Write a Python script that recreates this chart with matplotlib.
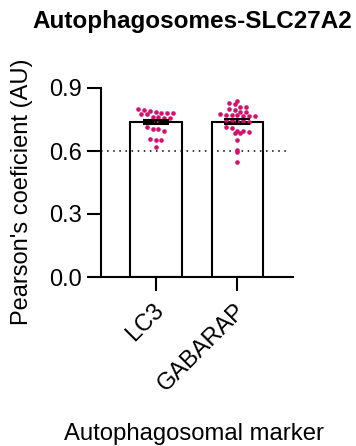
import numpy as np
import matplotlib
matplotlib.use("Agg")
import matplotlib.pyplot as plt

plt.rcParams['font.family'] = ['Liberation Sans', 'DejaVu Sans']

# Pearson's coefficient per cell for each autophagosomal marker
categories = ["LC3", "GABARAP"]
lc3 = [0.780, 0.780, 0.776, 0.784, 0.789, 0.799, 0.794, 0.782, 0.775, 0.763,
       0.759, 0.757, 0.763, 0.737, 0.697, 0.703, 0.714, 0.706, 0.659, 0.654,
       0.654, 0.619]
gabarap = [0.840, 0.825, 0.830, 0.811, 0.811, 0.795, 0.800, 0.784, 0.787, 0.776,
           0.771, 0.765, 0.768, 0.771, 0.771, 0.768, 0.748, 0.748, 0.743, 0.740,
           0.744, 0.716, 0.708, 0.697, 0.695, 0.692, 0.687, 0.687, 0.652, 0.605,
           0.594, 0.549]
series = [lc3, gabarap]
threshold = 0.6
yticks = [0.0, 0.3, 0.6, 0.9]

DOT = '#D40F6E'
LW = 1.5


def row_swarm(values, row_h=0.03, step=0.072):
    """Prism-like scatter: group values into horizontal rows, centre each row."""
    v = np.sort(np.asarray(values))[::-1]
    rows = np.floor(v / row_h).astype(int)
    offs = np.zeros_like(v)
    for r in np.unique(rows):
        idx = np.where(rows == r)[0]
        n = len(idx)
        offs[idx] = (np.arange(n) - (n - 1) / 2) * step
    return offs, v


fig = plt.figure(figsize=(3.56, 4.46), dpi=100)
ax = fig.add_axes([101 / 356, 1 - 277 / 446, 192 / 356, 189 / 446])

x = np.arange(len(categories))
means = [np.mean(s) for s in series]
sems = [np.std(s, ddof=1) / np.sqrt(len(s)) for s in series]

ax.bar(x, means, width=0.634, color='white', edgecolor='black', linewidth=LW, zorder=2)
ax.axhline(threshold, xmin=0.0, xmax=0.974, color='black', lw=1.1,
           linestyle=(0, (1, 3)), zorder=2.5)
for xi, s in zip(x, series):
    offs, v = row_swarm(s)
    ax.plot(xi + offs, v, 'o', ms=3.3, color=DOT, mec='none', zorder=3)
ax.errorbar(x, means, yerr=sems, fmt='none', ecolor='black', elinewidth=LW,
            capsize=9.7, capthick=LW, zorder=4)

ax.set_xlim(-0.665, 1.677)
ax.set_ylim(0, 0.9)
ax.set_yticks(yticks)
ax.set_yticklabels([f"{t:.1f}" for t in yticks])
ax.set_xticks(x)
ax.set_xticklabels([])

# Rotated category labels, anchored at their right end below each tick
for xi, cat in zip(x, categories):
    ax.annotate(cat, xy=(xi, 0), xycoords=('data', 'axes fraction'),
                xytext=(3.6, -22), textcoords='offset points', rotation=45,
                ha='right', va='center', rotation_mode='anchor', fontsize=17,
                annotation_clip=False)

for side in ['top', 'right']:
    ax.spines[side].set_visible(False)
for side in ['left', 'bottom']:
    ax.spines[side].set_linewidth(LW)
ax.tick_params(axis='both', length=10, width=LW, labelsize=17, pad=3.5)

fig.text(192.5 / 356, 1 - 28.3 / 446, "Autophagosomes-SLC27A2", ha='center',
         va='baseline', fontsize=17.5, fontweight='bold')
fig.text(22 / 356, 1 - 191.5 / 446, "Pearson's coeficient (AU)", rotation=90,
         ha='center', va='center', fontsize=17)
fig.text(193.5 / 356, 6 / 446, "Autophagosomal marker", ha='center',
         va='baseline', fontsize=17.2)

fig.savefig("out.png", dpi=100)
